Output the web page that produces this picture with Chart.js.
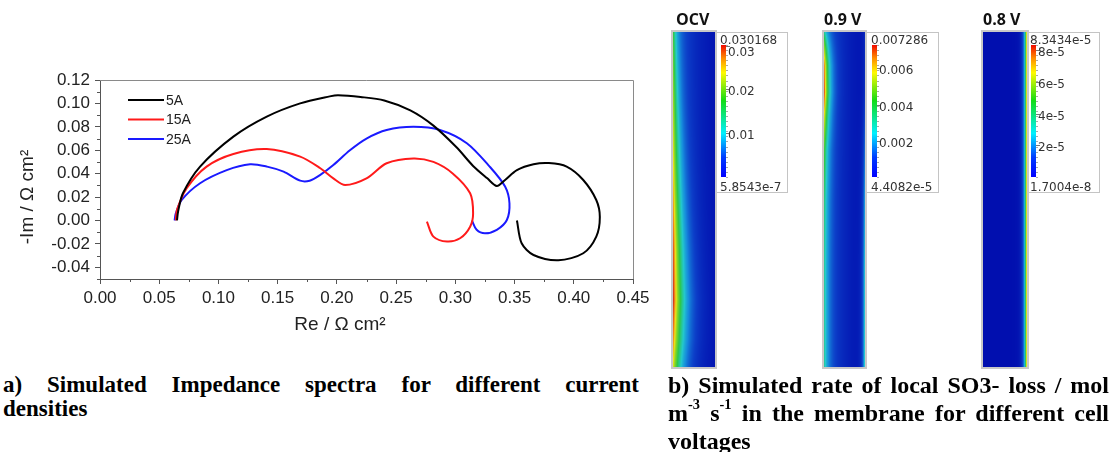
<!DOCTYPE html>
<html>
<head>
<meta charset="utf-8">
<script src="https://cdn.jsdelivr.net/npm/chart.js@4.4.1/dist/chart.umd.min.js"></script>
<style>
    body { margin: 0; background: #fff; }
    #page { position: relative; width: 1111px; height: 452px; overflow: hidden; background: #fff; }
    #impedance_chart { position: absolute; left: 0; top: 0; }
    #maps { position: absolute; left: 660px; top: 0; }
    .map-title { position: absolute; top: 8px; font-family: "Open Sans", sans-serif; font-weight: bold; font-size: 16px; color: #111; }
    .bar-label { position: absolute; font-family: "DejaVu Sans", sans-serif; font-size: 12px; color: #333; line-height: 12px; }
    .caption { position: absolute; font-family: "Liberation Serif", serif; font-weight: bold; font-size: 24px; color: #000; }
    .caption div { text-align: justify; text-align-last: justify; white-space: nowrap; }
    .caption div.last { text-align-last: left; }
    .caption sup { font-size: 0.6em; line-height: 0; position: relative; top: -0.2em; }
</style>
</head>
<body>
<div id="page">
    <canvas id="impedance_chart" width="660" height="340"></canvas>
    <canvas id="maps" width="451" height="372"></canvas>

    <div class="map-title" style="left:676px">OCV</div>
    <div class="map-title" style="left:824px">0.9 V</div>
    <div class="map-title" style="left:983px">0.8 V</div>

    <div class="caption" style="left:3px; top:373px; width:636px; line-height:24px; font-size:23px;">
        <div>a) Simulated Impedance spectra for different current</div>
        <div class="last">densities</div>
    </div>
    <div class="caption" style="left:668px; top:371px; width:441px; line-height:28px;">
        <div>b) Simulated rate of local SO3- loss / mol</div>
        <div>m<sup>-3</sup> s<sup>-1</sup> in the membrane for different cell</div>
        <div class="last">voltages</div>
    </div>
</div>

<script>
// impedance spectra (Re, -Im in ohm cm2)
var re5  = [0.065, 0.066, 0.070, 0.0845, 0.1126, 0.1408, 0.169, 0.194, 0.201, 0.22, 0.24, 0.262, 0.2815, 0.301, 0.315, 0.327, 0.335, 0.342, 0.352, 0.366, 0.379, 0.394, 0.408, 0.419, 0.422, 0.419, 0.408, 0.387, 0.366, 0.356, 0.352];
var im5  = [0.000, 0.008, 0.0232, 0.046, 0.0716, 0.0887, 0.100, 0.106, 0.107, 0.1055, 0.1025, 0.094, 0.081, 0.0625, 0.0466, 0.036, 0.0295, 0.0346, 0.043, 0.048, 0.049, 0.046, 0.0346, 0.0175, 0.003, -0.0138, -0.028, -0.034, -0.0295, -0.0195, 0.000];
var re15 = [0.064, 0.065, 0.0732, 0.090, 0.1126, 0.1408, 0.169, 0.186, 0.197, 0.207, 0.225, 0.242, 0.2646, 0.2815, 0.298, 0.3125, 0.315, 0.3125, 0.304, 0.293, 0.2815, 0.276];
var im15 = [0.000, 0.009, 0.0275, 0.046, 0.0568, 0.061, 0.0545, 0.0446, 0.036, 0.0303, 0.036, 0.0489, 0.053, 0.050, 0.040, 0.0232, 0.006, -0.0053, -0.0152, -0.018, -0.0138, -0.001];
var re25 = [0.063, 0.064, 0.069, 0.0845, 0.107, 0.1267, 0.141, 0.155, 0.169, 0.177, 0.186, 0.197, 0.211, 0.225, 0.242, 0.2646, 0.287, 0.3097, 0.329, 0.342, 0.3457, 0.3435, 0.335, 0.325, 0.318, 0.314];
var im25 = [0.000, 0.006, 0.0175, 0.0318, 0.043, 0.048, 0.046, 0.0417, 0.034, 0.034, 0.039, 0.0474, 0.060, 0.070, 0.0773, 0.080, 0.0773, 0.066, 0.046, 0.029, 0.0147, 0.0004, -0.008, -0.011, -0.008, 0.000];

var seriesLabels = ['5A', '15A', '25A'];
var seriesColors = ['#000000', '#ff1a1a', '#1a1aff'];

var xTicks = [0.00, 0.05, 0.10, 0.15, 0.20, 0.25, 0.30, 0.35, 0.40, 0.45];
var xMinor = [0.025, 0.075, 0.125, 0.175, 0.225, 0.275, 0.325, 0.375, 0.425];
var yTicks = [-0.04, -0.02, 0.00, 0.02, 0.04, 0.06, 0.08, 0.10, 0.12];
var yMinor = [-0.05, -0.03, -0.01, 0.01, 0.03, 0.05, 0.07, 0.09, 0.11];

// colour bars of the three membrane maps
var barTitles = ['OCV', '0.9 V', '0.8 V'];
var barMax    = [0.030168, 0.007286, 8.3434e-5];
var barMin    = [5.8543e-7, 4.4082e-5, 1.7004e-8];
var barMaxText = ['0.030168', '0.007286', '8.3434e-5'];
var barMinText = ['5.8543e-7', '4.4082e-5', '1.7004e-8'];
var barTicks  = [[0.03, 0.02, 0.01], [0.006, 0.004, 0.002], [8e-5, 6e-5, 4e-5, 2e-5]];
var barTickText = [['0.03', '0.02', '0.01'], ['0.006', '0.004', '0.002'], ['8e-5', '6e-5', '4e-5', '2e-5']];

function toPoints(xs, ys) {
    return xs.map(function (x, i) { return {x: x, y: ys[i]}; });
}

var axisFont = {family: 'Liberation Sans, Arial, sans-serif', size: 17};

var framePlugin = {
    id: 'frame',
    afterDraw: function (chart) {
        var c = chart.ctx, a = chart.chartArea;
        var xs = chart.scales.x, ys = chart.scales.y;
        c.save();
        // top and right edges of the box
        c.strokeStyle = '#8a8a8a';
        c.lineWidth = 1;
        c.beginPath();
        c.moveTo(a.left, a.top + 0.5);
        c.lineTo(a.right + 0.5, a.top + 0.5);
        c.lineTo(a.right + 0.5, a.bottom);
        c.stroke();
        // minor ticks
        c.strokeStyle = '#555';
        c.beginPath();
        yMinor.forEach(function (v) {
            var py = Math.round(ys.getPixelForValue(v)) + 0.5;
            c.moveTo(a.left - 3, py);
            c.lineTo(a.left, py);
        });
        xMinor.forEach(function (v) {
            var px = Math.round(xs.getPixelForValue(v)) + 0.5;
            c.moveTo(px, a.bottom);
            c.lineTo(px, a.bottom + 3);
        });
        c.stroke();
        // axis titles
        c.fillStyle = '#222';
        c.font = '19px Liberation Sans, Arial, sans-serif';
        c.textAlign = 'center';
        c.textBaseline = 'middle';
        c.fillText('Re / \u03A9 cm\u00B2', 340, 325);
        c.translate(28, 197);
        c.rotate(-Math.PI / 2);
        c.fillText('-Im / \u03A9 cm\u00B2', 0, 0);
        c.restore();

        // legend inside the plot
        c.save();
        c.font = '14px Liberation Sans, Arial, sans-serif';
        c.textBaseline = 'middle';
        c.textAlign = 'left';
        chart.data.datasets.forEach(function (ds, i) {
            var ly = 100 + i * 19.5;
            c.strokeStyle = ds.borderColor;
            c.lineWidth = 2;
            c.beginPath();
            c.moveTo(128, ly);
            c.lineTo(164, ly);
            c.stroke();
            c.fillStyle = '#222';
            c.fillText(ds.label, 166, ly + 1);
        });
        c.restore();
    }
};

var ctx = document.getElementById('impedance_chart');
var impedanceChart = new Chart(ctx, {
    type: 'scatter',
    data: {
        datasets: [
            {label: seriesLabels[0], data: toPoints(re5, im5)},
            {label: seriesLabels[1], data: toPoints(re15, im15)},
            {label: seriesLabels[2], data: toPoints(re25, im25)}
        ].map(function (ds, i) {
            ds.showLine = true;
            ds.borderColor = seriesColors[i];
            ds.backgroundColor = seriesColors[i];
            ds.borderWidth = 2;
            ds.pointRadius = 0;
            ds.tension = 0.3;
            ds.fill = false;
            return ds;
        })
    },
    options: {
        responsive: false,
        animation: false,
        events: [],
        layout: {padding: {left: 0, right: 27, top: 80, bottom: 0}},
        plugins: {legend: {display: false}, title: {display: false}, tooltip: {enabled: false}},
        scales: {
            x: {
                type: 'linear',
                min: 0, max: 0.45,
                afterBuildTicks: function (s) { s.ticks = xTicks.map(function (v) { return {value: v}; }); },
                afterFit: function (s) { s.height = 61; },
                ticks: {font: axisFont, color: '#222', padding: 4, maxRotation: 0,
                        callback: function (v) { return v.toFixed(2); }},
                grid: {display: true, drawOnChartArea: false, drawTicks: true, tickLength: 5, color: '#555'},
                border: {display: true, color: '#555', width: 1}
            },
            y: {
                type: 'linear',
                min: -0.05, max: 0.12,
                afterBuildTicks: function (s) { s.ticks = yTicks.map(function (v) { return {value: v}; }); },
                afterFit: function (s) { s.width = 100; },
                ticks: {font: axisFont, color: '#222', padding: 5,
                        callback: function (v) { return v.toFixed(2); }},
                grid: {display: true, drawOnChartArea: false, drawTicks: true, tickLength: 5, color: '#555'},
                border: {display: true, color: '#555', width: 1}
            }
        }
    },
    plugins: [framePlugin]
});

// ---- membrane maps (simulation pictures, painted as images) ----
var strips = [
    {x: 13, w: 42, box: 128, bar: 61},
    {x: 164, w: 41, box: 279, bar: 212},
    {x: 323, w: 44, box: 440, bar: 371}
];
var stripTop = 32, stripH = 335, barTop = 45, barH = 132, boxBottom = 193;

var stripStops = [
    [0.00, [0, 10, 172]], [0.10, [12, 62, 200]], [0.20, [22, 140, 220]], [0.30, [35, 200, 205]],
    [0.45, [45, 200, 75]], [0.60, [140, 215, 35]], [0.72, [235, 225, 25]], [0.85, [240, 130, 25]], [1.00, [205, 35, 30]]
];
function stripColor(t) {
    t = Math.max(0, Math.min(1, t));
    for (var i = 1; i < stripStops.length; i++) {
        if (t <= stripStops[i][0]) {
            var a = stripStops[i - 1], b = stripStops[i];
            var f = (t - a[0]) / (b[0] - a[0]);
            return a[1].map(function (c, k) { return Math.round(c + (b[1][k] - c) * f); });
        }
    }
    return stripStops[stripStops.length - 1][1];
}
function lerpKeys(keys, vals, v) {
    for (var i = 1; i < keys.length; i++) {
        if (v <= keys[i]) {
            var f = (v - keys[i - 1]) / (keys[i] - keys[i - 1]);
            return vals[i - 1] + (vals[i] - vals[i - 1]) * f;
        }
    }
    return vals[vals.length - 1];
}
// edge intensity along the height of each map
var ocvKeys = [0, 0.2, 0.45, 0.65, 0.8, 0.92, 1];
var ocvEdge = [0.30, 0.45, 0.60, 0.76, 0.82, 0.66, 0.52];
var ocvWide = [0.08, 0.10, 0.14, 0.17, 0.19, 0.19, 0.17];
var v09Keys = [0, 0.05, 0.1, 0.18, 0.25, 0.35, 0.5, 0.7, 1];
var v09Edge = [0.22, 0.5, 0.75, 0.84, 0.6, 0.36, 0.26, 0.22, 0.22];
var v09Right = [0.05, 0.05, 0.05, 0.06, 0.1, 0.16, 0.24, 0.32, 0.36];

var fields = [
    function (u, v) {
        return lerpKeys(ocvKeys, ocvEdge, v) * Math.exp(-u / lerpKeys(ocvKeys, ocvWide, v)) + 0.2 * Math.exp(-u / 0.45);
    },
    function (u, v) {
        return lerpKeys(v09Keys, v09Edge, v) * Math.exp(-u / 0.1) + 0.16 * Math.exp(-u / 0.45) +
            lerpKeys(v09Keys, v09Right, v) * Math.exp(-(1 - u) / 0.05);
    },
    function (u, v) {
        return 0.01 + 0.88 * Math.exp(-(1 - u) / 0.045);
    }
];

var mc = document.getElementById('maps').getContext('2d');
strips.forEach(function (s, n) {
    // legend box
    mc.fillStyle = '#fff';
    mc.fillRect(s.x + s.w, stripTop, s.box - s.x - s.w, boxBottom - stripTop);
    mc.strokeStyle = '#c4c4c4';
    mc.lineWidth = 1;
    mc.strokeRect(s.x + s.w + 0.5, stripTop + 0.5, s.box - s.x - s.w - 1, boxBottom - stripTop - 1);

    // the map itself
    var img = mc.createImageData(s.w, stripH);
    for (var py = 0; py < stripH; py++) {
        for (var px = 0; px < s.w; px++) {
            var col = stripColor(fields[n]((px + 0.5) / s.w, (py + 0.5) / stripH));
            var k = (py * s.w + px) * 4;
            img.data[k] = col[0]; img.data[k + 1] = col[1]; img.data[k + 2] = col[2]; img.data[k + 3] = 255;
        }
    }
    mc.putImageData(img, s.x, stripTop);
    mc.strokeStyle = '#c8c8c8';
    mc.lineWidth = 2;
    mc.strokeRect(s.x - 1, stripTop - 1, s.w + 2, stripH + 2);

    // colour bar
    var g = mc.createLinearGradient(0, barTop + barH, 0, barTop);
    g.addColorStop(0, 'rgb(0,0,255)');
    g.addColorStop(0.15, 'rgb(0,60,255)');
    g.addColorStop(0.33, 'rgb(0,240,255)');
    g.addColorStop(0.58, 'rgb(20,220,20)');
    g.addColorStop(0.79, 'rgb(255,250,0)');
    g.addColorStop(0.9, 'rgb(255,140,0)');
    g.addColorStop(1, 'rgb(240,10,0)');
    mc.fillStyle = g;
    mc.fillRect(s.bar, barTop, 5, barH);

    mc.strokeStyle = '#aaa';
    mc.lineWidth = 1;
    mc.beginPath();
    for (var i = 0; i <= 26; i++) {
        var ty = Math.round(barTop + i * barH / 26) + 0.5;
        mc.moveTo(s.bar + 5, ty);
        mc.lineTo(s.bar + 7, ty);
    }
    mc.stroke();
    mc.strokeStyle = '#777';
    mc.beginPath();
    barTicks[n].forEach(function (v) {
        var ty = Math.round(barTop + (barMax[n] - v) / (barMax[n] - barMin[n]) * barH) + 0.5;
        mc.moveTo(s.bar + 5, ty);
        mc.lineTo(s.bar + 9, ty);
    });
    mc.stroke();

    // labels as text
    var page = document.getElementById('page');
    function addLabel(text, left, cy) {
        var d = document.createElement('div');
        d.className = 'bar-label';
        d.textContent = text;
        d.style.left = left + 'px';
        d.style.top = (cy - 6) + 'px';
        page.appendChild(d);
    }
    var lx = 660 + s.bar - 1;
    addLabel(barMaxText[n], lx, 40);
    addLabel(barMinText[n], lx, 187);
    barTicks[n].forEach(function (v, j) {
        var ty = barTop + (barMax[n] - v) / (barMax[n] - barMin[n]) * barH;
        addLabel(barTickText[n][j], lx + 8, Math.max(ty + 2, 52));
    });
});
</script>
</body>
</html>
